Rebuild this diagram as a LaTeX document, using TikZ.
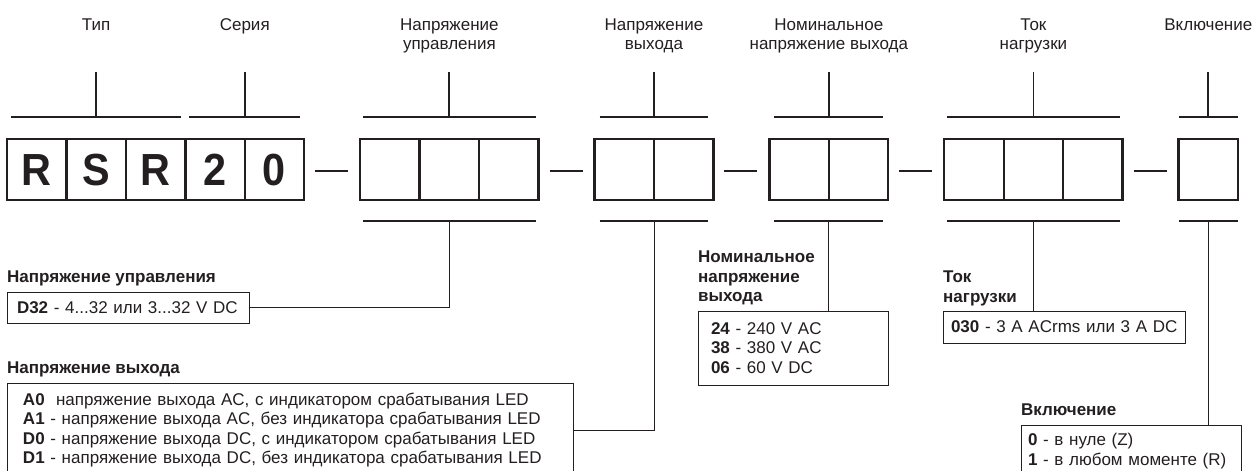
\documentclass[tikz,border=0pt]{standalone}
\usepackage{fontspec}
\setmainfont{Liberation Sans}
\newfontfamily\codefont[FakeStretch=0.92]{Liberation Sans}
\usetikzlibrary{positioning,calc}

\definecolor{ink}{HTML}{231F20}
\newcommand{\txtsize}{\fontsize{17}{19.5}\selectfont}

\tikzset{
  cell/.style={draw=ink,line width=2.4pt,outer sep=0pt,inner sep=0pt,
    minimum width=59.44pt,minimum height=61pt,text=ink,
    font=\codefont\bfseries\fontsize{45}{45}\selectfont},
  dashline/.style={draw=ink,line width=2.4pt},
  brk/.style={draw=ink,line width=1.8pt},
  con/.style={draw=ink,line width=0.9pt},
  toplbl/.style={anchor=north,align=center,inner sep=0pt,text=ink,font=\txtsize},
  sublbl/.style={anchor=north west,align=left,inner sep=0pt,text=ink,font=\txtsize\bfseries},
  infobox/.style={draw=ink,line width=0.9pt,anchor=north west,align=left,
    inner ysep=0pt,text=ink,outer sep=0pt,font=\txtsize}
}

\begin{document}
\begin{tikzpicture}[x=1pt,y=-1pt]
  \useasboundingbox (0,0) rectangle (1253,471);
  \clip (0,0) rectangle (1253,471);

  % ================= ячейки кода =================
  \node[cell] (c1) at (36.72,169.7) {R};
  \node[cell,right=0pt of c1] (c2) {S};
  \node[cell,right=0pt of c2] (c3) {R};
  \node[cell,right=0pt of c3] (c4) {2};
  \node[cell,right=0pt of c4] (c5) {0};
  \node[cell,right=56pt of c5] (c6) {};
  \foreach \i/\d in {7/0,8/0,9/56,10/0,11/56,12/0,13/56,14/0,15/0,16/56} {
    \pgfmathtruncatemacro\p{\i-1}
    \node[cell,right=\d pt of c\p] (c\i) {};
  }

  % ================= тире между группами =================
  \foreach \a/\b in {5/6,8/9,10/11,12/13,15/16} {
    \draw[dashline] ([xshift=11pt,yshift=-1.5pt]c\a.east) -- ([xshift=-12pt,yshift=-1.5pt]c\b.west);
  }

  % ================= скобки сверху =================
  \foreach \a/\b/\n/\s in {c1/c3/typ/4,c4/c5/ser/4,c6/c8/upr/3,c9/c10/vyh/5,
                           c11/c12/nom/5,c13/c15/tok/3,c16/c16/vkl/0} {
    \draw[brk] ([shift={(\s pt,22pt)}]\a.north west) -- ([shift={(-\s pt,22pt)}]\b.north east);
    \coordinate (t-\n) at ($(\a.north west)!0.5!(\b.north east)+(0,-22)$);
    \coordinate (tt-\n) at ($(t-\n)+(0,-45)$);
    \draw[brk] (t-\n) -- (tt-\n);
  }

  % ================= скобки снизу =================
  \foreach \a/\b/\n/\s in {c6/c8/upr/3,c9/c10/vyh/5,c11/c12/nom/5,c13/c15/tok/3,c16/c16/vkl/0} {
    \draw[brk] ([shift={(\s pt,-21pt)}]\a.south west) -- ([shift={(-\s pt,-21pt)}]\b.south east);
    \coordinate (b-\n) at ($(\a.south west)!0.5!(\b.south east)+(0,21)$);
  }

  % ================= подписи сверху =================
  \node[toplbl] (l-typ) at ($(tt-typ)+(0,-54)$) {Тип};
  \node[toplbl] (l-ser) at ($(tt-ser)+(0,-54)$) {Серия};
  \node[toplbl] (l-upr) at ($(tt-upr)+(0,-54)$) {Напряжение\\управления};
  \node[toplbl] (l-vyh) at ($(tt-vyh)+(0,-54)$) {Напряжение\\выхода};
  \node[toplbl] (l-nom) at ($(tt-nom)+(0,-54)$) {Номинальное\\напряжение выхода};
  \node[toplbl] (l-tok) at ($(tt-tok)+(0,-54)$) {Ток\\нагрузки};
  \node[toplbl] (l-vkl) at ($(tt-vkl)+(0,-54)$) {Включение};

  % ================= расшифровка =================
  \node[sublbl] (h-upr) at (7,271) {Напряжение управления};
  \node[infobox,text width=222pt,inner xsep=10pt,minimum height=31pt] (d32) at (7,292)
    {\textbf{D32} - 4...32 или 3...32 V DC};

  \node[sublbl] (h-vyh) at (7,362) {Напряжение выхода};
  \node[infobox,text width=534pt,inner xsep=16pt,minimum height=94pt] (out) at (7,383)
    {\textbf{A0}\ \ напряжение выхода AC, с индикатором срабатывания LED\\
     \textbf{A1} - напряжение выхода AC, без индикатора срабатывания LED\\
     \textbf{D0} - напряжение выхода DC, с индикатором срабатывания LED\\
     \textbf{D1} - напряжение выхода DC, без индикатора срабатывания LED};

  \node[sublbl] (h-nom) at (698,251) {Номинальное\\напряжение\\выхода};
  \node[infobox,text width=164pt,inner xsep=13pt,minimum height=74pt] (nom) at (698,311)
    {\textbf{24} - 240 V AC\\\textbf{38} - 380 V AC\\\textbf{06} - 60 V DC};

  \node[sublbl] (h-tok) at (943,271) {Ток\\нагрузки};
  \node[infobox,text width=226pt,inner xsep=8pt,minimum height=32pt] (tok) at (943,311)
    {\mbox{\textbf{030} - 3 A ACrms или 3 A DC}};

  \node[sublbl] (h-vkl) at (1021,404) {Включение};
  \node[infobox,text width=206pt,inner xsep=7pt,minimum height=52pt] (vkl) at (1021,425)
    {\textbf{0} - в нуле (Z)\\\textbf{1} - в любом моменте (R)};

  % ================= соединения =================
  \draw[con] (b-upr) |- (d32.east);
  \draw[con] (b-vyh) |- (out.east);
  \draw[con] (b-nom) -- (b-nom |- nom.north);
  \draw[con] (b-tok) -- (b-tok |- tok.north);
  \draw[con] (b-vkl) -- (b-vkl |- vkl.north);

\end{tikzpicture}
\end{document}
